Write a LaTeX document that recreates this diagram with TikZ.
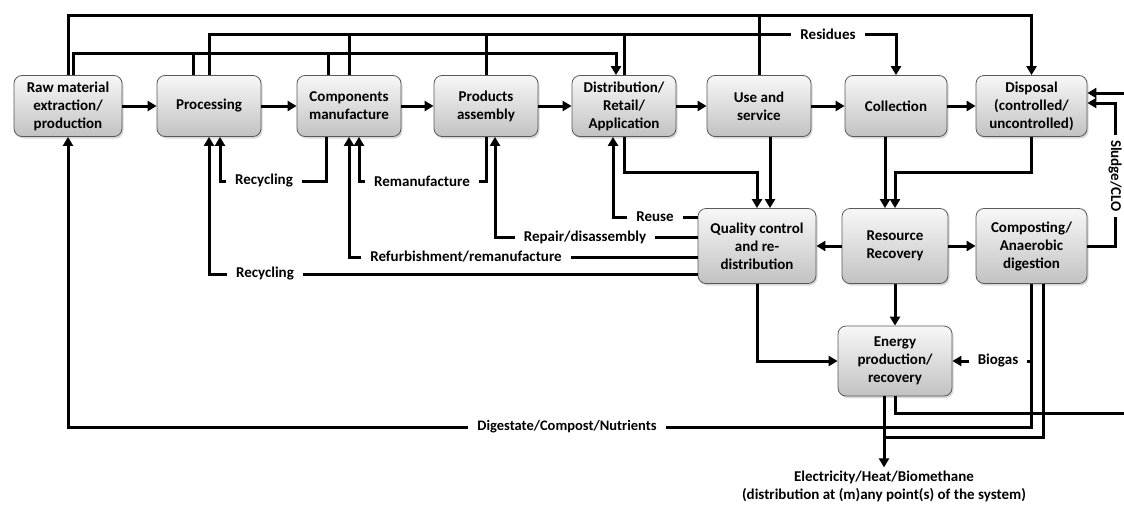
\documentclass[tikz,border=0pt]{standalone}
\usepackage{fontspec}
\setmainfont{Carlito}
\usetikzlibrary{arrows.meta,shadows}
\newcommand{\stagefont}{\fontsize{15}{18}\selectfont\bfseries}
\tikzset{
  stage/.style={draw=black!65, line width=0.8pt, rounded corners=8pt,
    top color=gray!6, bottom color=gray!48,
    drop shadow={opacity=0.3, shadow xshift=1.5pt, shadow yshift=-2pt},
    align=center, font=\stagefont, inner sep=2pt,
    minimum width=104pt, minimum height=61pt},
  tag/.style={font=\stagefont, inner xsep=9pt, inner ysep=2pt},
  link/.style={line width=3pt},
  flow/.style={link, -{Triangle[length=9pt,width=10pt]}}
}

\begin{document}
\begin{tikzpicture}[x=1pt,y=-1pt]
\useasboundingbox[fill=white] (0,0) rectangle (1124,509);

% Life cycle stages (top row)
\node[stage, minimum width=108pt] (raw) at (68,106) {Raw material\\extraction/\\production};
\node[stage] (proc) at (209,106) {Processing};
\node[stage] (comp) at (349,106) {Components\\manufacture};
\node[stage] (prod) at (486,106) {Products\\assembly};
\node[stage] (dist) at (624,106) {Distribution/\\Retail/\\Application};
\node[stage] (use) at (759,106) {Use and\\service};
\node[stage, minimum width=102pt] (coll) at (896,106) {Collection};
\node[stage, minimum width=111pt] (disp) at (1031.5,106) {Disposal\\(controlled/\\uncontrolled)};

% Recovery stages
\node[stage, minimum width=118pt, minimum height=75pt] (qual) at (757,246) {Quality control\\and re-\\distribution};
\node[stage, minimum width=106pt, minimum height=75pt] (rr) at (895,246) {Resource\\Recovery};
\node[stage, minimum width=111pt, minimum height=75pt] (compo) at (1031.5,246) {Composting/\\Anaerobic\\digestion};
\node[stage, minimum width=114pt, minimum height=70pt] (en) at (895,361) {Energy\\production/\\recovery};

% Flow labels
\node[tag] (lres) at (828,34) {Residues};
\node[tag] (lrecA) at (264,181) {Recycling};
\node[tag] (lreman) at (422,181) {Remanufacture};
\node[tag] (lreuse) at (655,217) {Reuse};
\node[tag] (lrep) at (585,237) {Repair/disassembly};
\node[tag] (lref) at (466,257) {Refurbishment/remanufacture};
\node[tag] (lrecB) at (265,274) {Recycling};
\node[tag, font=\fontsize{14.5}{17}\selectfont\bfseries] (ldig) at (567,427) {Digestate/Compost/Nutrients};
\node[tag] (lbio) at (998,361) {Biogas};
\node[tag, rotate=-90, inner xsep=5pt] (lsludge) at (1115,176) {Sludge/CLO};
\node[tag, align=center, inner sep=3pt] (lelec) at (884,486) {Electricity/Heat/Biomethane\\(distribution at (m)any point(s) of the system)};

% Rails and loose ends
\coordinate (railA) at (0,15);
\coordinate (railC) at (0,53);
\coordinate (railD) at (0,172);
\coordinate (railF) at (0,437);
\coordinate (edgeA) at (1124,93);
\coordinate (edgeE) at (1124,413);

% Ports off the box centres
\coordinate (rawC) at ([xshift=5pt]raw.north);
\coordinate (procC) at ([xshift=-16pt]proc.north);
\coordinate (compC) at ([xshift=-21pt]comp.north);
\coordinate (distC) at ([xshift=-8pt]dist.north);
\coordinate (procR) at ([xshift=11pt]proc.south);
\coordinate (compR) at ([xshift=-23pt]comp.south);
\coordinate (compM) at ([xshift=10pt]comp.south);
\coordinate (prodR) at ([xshift=9pt]prod.south);
\coordinate (distU) at ([xshift=-11pt]dist.south);
\coordinate (useQ) at ([xshift=11pt]use.south);
\coordinate (collR) at ([xshift=-11pt]coll.south);
\coordinate (compoE) at ([xshift=12pt]compo.south);
\coordinate (dispS) at ([yshift=3pt]disp.east);
\coordinate (dispE) at ([yshift=13pt]disp.east);

% Main chain
\draw[flow] (raw) -- (proc);
\draw[flow] (proc) -- (comp);
\draw[flow] (comp) -- (prod);
\draw[flow] (prod) -- (dist);
\draw[flow] (dist) -- (use);
\draw[flow] (use) -- (coll);
\draw[flow] (coll) -- (disp);

% Top rails: disposal, residues, distribution
\draw[flow] (raw.north) |- (railA -| disp.north) -- (disp.north);
\draw[link] (use.north) -- (use.north |- railA);
\draw[link] (proc.north) |- (lres.west);
\draw[link] (comp.north) -- (comp.north |- lres.west);
\draw[link] (prod.north) -- (prod.north |- lres.west);
\draw[link] (dist.north) -- (dist.north |- lres.west);
\draw[flow] (lres.east) -| (coll.north);
\draw[flow] (rawC) |- (railC -| distC) -- (distC);
\draw[link] (procC) -- (procC |- railC);
\draw[link] (compC) -- (compC |- railC);

% Loops back into the chain
\draw[link] (compR) |- (lrecA.east);
\draw[flow] (lrecA.west) -| (procR);
\draw[link] (prod.south) |- (lreman.east);
\draw[flow] (lreman.west) -| (compM);
\draw[link] (qual.west |- lreuse.east) -- (lreuse.east);
\draw[flow] (lreuse.west) -| (distU);
\draw[link] (qual.west |- lrep.east) -- (lrep.east);
\draw[flow] (lrep.west) -| (prodR);
\draw[link] (qual.west |- lref.east) -- (lref.east);
\draw[flow] (lref.west) -| (comp.south);
\draw[link] (qual.west |- lrecB.east) -- (lrecB.east);
\draw[flow] (lrecB.west) -| (proc.south);

% Down to quality control and resource recovery
\draw[flow] (dist.south) |- (railD -| qual.north) -- (qual.north);
\draw[flow] (useQ) -- (useQ |- qual.north);
\draw[flow] (collR) -- (collR |- rr.north);
\draw[flow] (disp.south) |- (railD -| rr.north) -- (rr.north);

% Resource recovery outputs
\draw[flow] (rr) -- (qual);
\draw[flow] (rr) -- (compo);
\draw[flow] (rr) -- (en);
\draw[flow] (qual.south) |- (en.west);

% Composting outputs
\draw[link] (compo.east) -| (lsludge.east);
\draw[flow] (lsludge.west) |- (dispS);
\draw[flow] (edgeA) -- (dispE);
\draw[link] (compo.south |- en.east) -- (lbio.east);
\draw[flow] (lbio.west) -- (en.east);
\draw[link] (compo.south) |- (ldig.east);
\draw[flow] (ldig.west) -| (raw.south);
\draw[link] (compoE) |- (railF -| lelec.north);

% Energy outputs
\draw[link] (en.south) |- (edgeE);
\draw[flow] (en.south -| lelec.north) -- (lelec.north);

\end{tikzpicture}
\end{document}
